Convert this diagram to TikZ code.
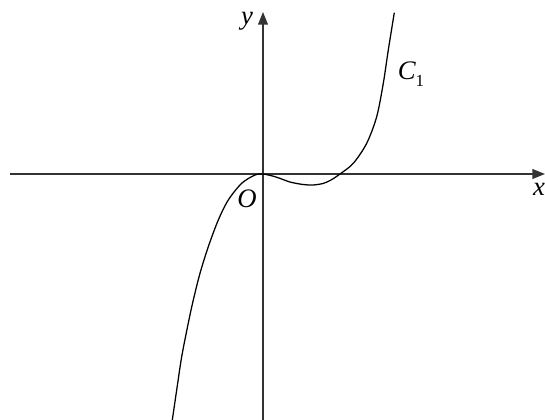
\documentclass[tikz,border=0pt]{standalone}
\usepackage{fontspec}
\setmainfont{Liberation Serif}
\usetikzlibrary{arrows.meta}

\begin{document}
\begin{tikzpicture}[x=0.025cm, y=0.025cm, line width=1pt]

    \useasboundingbox (-263,-246) rectangle (282,174);
    \tikzset{axe/.style={draw=black!80, -{Triangle[length=9pt,width=7pt]}},
             lab/.style={font=\fontsize{19}{22}\selectfont\itshape}}

    % Axes
    \coordinate (xg) at (-253,0);
    \coordinate (xd) at (282,0);
    \coordinate (yb) at (0,-246);
    \coordinate (yh) at (0,162);
    \draw[axe] (xg) -- (xd);
    \draw[axe] (yb) -- (yh);

    % Légendes
    \node[lab] (ylab) at (-16,153) {y};
    \node[lab] (xlab) at (276,-15) {x};
    \node[lab] (olab) at (-16,-25) {O};
    \node[lab] (clab) at (148,100) {C\raisebox{-0.6ex}{\upshape\fontsize{12}{14}\selectfont 1}};

    % Courbe C_1
    \draw[line width=0.9pt, smooth, tension=0.5] plot coordinates {
        (-90.7,-246) (-86.3,-216) (-81.3,-182.7) (-74.7,-149) (-69.7,-126)
        (-63,-99.3) (-54.7,-72.7) (-44.7,-46) (-34.7,-26) (-21.3,-9.3)
        (-8,-1) (0,0) (13,-3) (27,-8) (40,-10.5) (50,-11) (60,-9.5)
        (68,-6) (77,0) (90.3,10.7) (103.7,30.7) (113.7,57.3) (120.3,90.7)
        (125.3,124) (131.3,161.3)};

\end{tikzpicture}
\end{document}
